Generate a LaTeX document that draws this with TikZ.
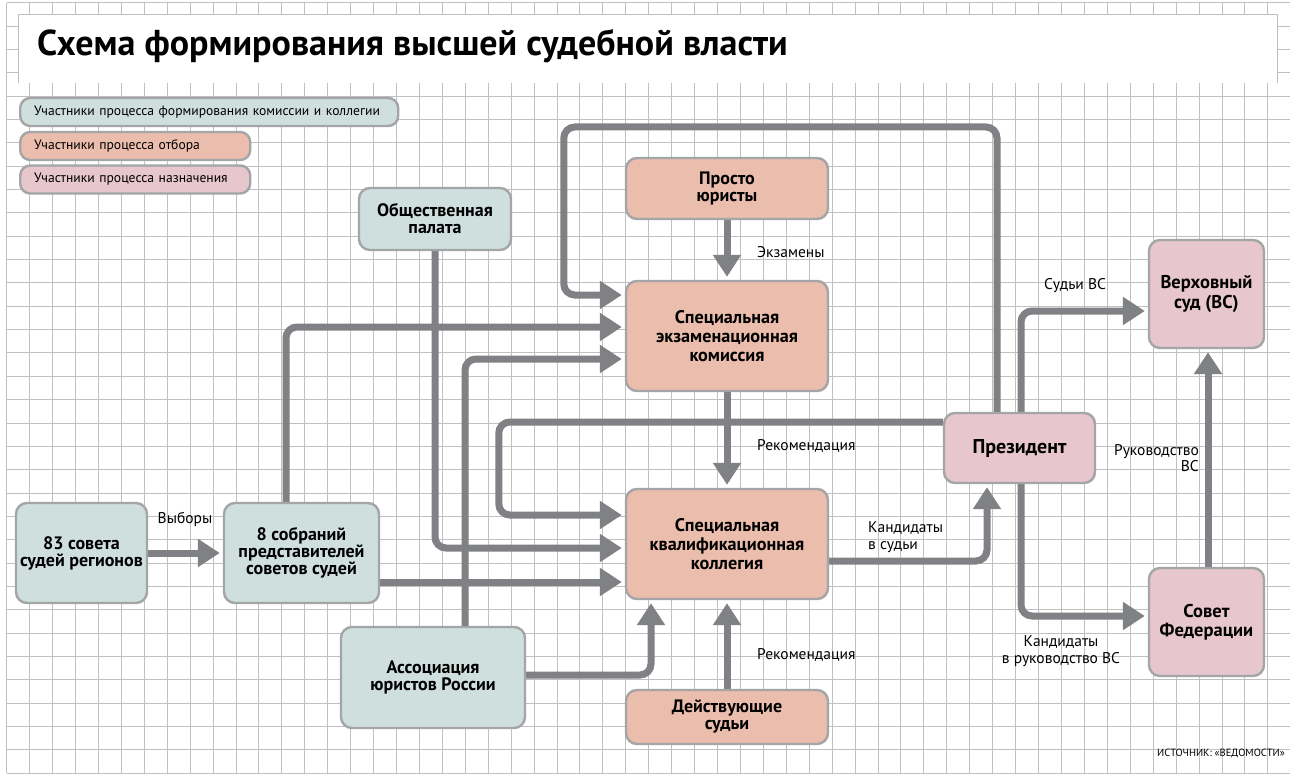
\documentclass[tikz,border=0pt]{standalone}
\usepackage{fontspec}
\setmainfont{PT Sans}
\usetikzlibrary{arrows.meta,calc}
\definecolor{cteal}{HTML}{CFDFDE}
\definecolor{csalm}{HTML}{EBBDAD}
\definecolor{cpink}{HTML}{E7C6CD}
\definecolor{cborder}{HTML}{A3A5A6}
\definecolor{carrow}{HTML}{808184}
\definecolor{cgrid}{HTML}{C0C0C0}
\pgfdeclarelayer{gridlayer}
\pgfdeclarelayer{arrlayer}
\pgfsetlayers{gridlayer,arrlayer,main}
\tikzset{
  boxbase/.style={draw=cborder, line width=2.4pt, rounded corners=11pt, align=center, inner sep=0pt},
  tealbox/.style={boxbase, fill=cteal},
  salmbox/.style={boxbase, fill=csalm},
  pinkbox/.style={boxbase, fill=cpink},
  nfont/.style={font=\bfseries\fontsize{18}{17}\selectfont},
  bfont/.style={font=\bfseries\fontsize{18.2}{19.3}\selectfont},
  pfont/.style={font=\bfseries\fontsize{18.5}{19.5}\selectfont},
  lbl/.style={font=\fontsize{15.5}{16.5}\selectfont, inner sep=0pt},
  legbox/.style={boxbase, rounded corners=10pt, align=left, inner xsep=14pt, inner ysep=0pt,
    font=\fontsize{13.6}{14}\selectfont, minimum height=28pt, anchor=west},
  arr/.style={draw=carrow, line width=7pt, rounded corners=11pt,
    -{Triangle[width=27pt,length=22pt]}, shorten >=3pt},
  gridline/.style={draw=cgrid, line width=1pt},
}
\begin{document}
\begin{tikzpicture}[x=1pt,y=-1pt]
\useasboundingbox (0,0) rectangle (1293,778);
% grid
\begin{pgfonlayer}{gridlayer}
\fill[white] (0,0) rectangle (1293,778);
\foreach \i in {0,...,55} \draw[gridline] ({6.7+22.93*\i},2.7) -- ({6.7+22.93*\i},773.3);
\foreach \j in {0,...,33} \draw[gridline] (6.7,{2.7+23.35*\j}) -- (1290,{2.7+23.35*\j});
\fill[white] (18.3,14.3) rectangle (1277,83);
\draw[gridline] (18.3,83) -- (18.3,14.3) -- (1277,14.3) -- (1277,83);
\end{pgfonlayer}
% title
\node[anchor=base west, inner sep=0pt, font=\bfseries\fontsize{36}{38}\selectfont] (title) at (37,56) {Схема формирования высшей судебной власти};
% legend
\node[legbox, fill=cteal, text width=350pt] (leg1) at (19,112) {Участники процесса формирования комиссии и коллегии};
\node[legbox, fill=csalm, text width=202pt] (leg2) at (19,146) {Участники процесса отбора};
\node[legbox, fill=cpink, text width=202pt] (leg3) at (19,179.5) {Участники процесса назначения};
% nodes
\node[salmbox, nfont, minimum width=202pt, minimum height=61pt] (prosto) at (727,188.5) {Просто\\юристы};
\node[salmbox, bfont, minimum width=202pt, minimum height=110pt] (exam) at (727,336) {Специальная\\экзаменационная\\комиссия};
\node[salmbox, bfont, minimum width=202pt, minimum height=110pt] (kval) at (727,544) {Специальная\\квалификационная\\коллегия};
\node[salmbox, nfont, minimum width=202pt, minimum height=54pt] (deyst) at (727,717) {Действующие\\судьи};
\node[tealbox, nfont, minimum width=152pt, minimum height=62pt] (obsch) at (435,219) {Общественная\\палата};
\node[tealbox, nfont, minimum width=131pt, minimum height=100pt] (sov83) at (81.5,553) {83 совета\\судей регионов};
\node[tealbox, nfont, minimum width=155pt, minimum height=100pt] (sobr8) at (301.5,553) {8 собраний\\представителей\\советов судей};
\node[tealbox, nfont, minimum width=184pt, minimum height=101pt] (assoc) at (433,677.5) {Ассоциация\\юристов России};
\node[pinkbox, font=\bfseries\fontsize{20}{21}\selectfont, minimum width=151pt, minimum height=70pt] (pres) at (1019.5,448) {Президент};
\node[pinkbox, pfont, minimum width=115pt, minimum height=108pt] (sf) at (1206.5,622) {Совет\\Федерации};
\node[pinkbox, pfont, minimum width=115pt, minimum height=108pt] (vs) at (1206.5,294) {Верховный\\суд (ВС)};
% connectors
\begin{pgfonlayer}{arrlayer}
\draw[arr] (sov83.east) -- (sobr8.west);
\draw[arr] (prosto.south) -- (exam.north);
\draw[arr] (exam.south) -- (kval.north);
\draw[arr] (deyst.north) -- (kval.south);
\draw[arr] ($(assoc.east)+(0,-2.5)$) -| ($(kval.south)+(-76,0)$);
\draw[arr] ($(assoc.north)+(32,0)$) |- ($(exam.west)+(0,23)$);
\draw[arr] (obsch.south) |- ($(kval.west)+(0,4)$);
\draw[arr] ($(sobr8.north)+(-15.5,0)$) |- ($(exam.west)+(0,-9)$);
\draw[arr] ($(sobr8.east)+(0,29)$) -- ($(kval.west)+(0,38)$);
\draw[arr] ($(pres.west)+(0,-26)$) -| ($(kval.west)+(-126,-29)$) -- ($(kval.west)+(0,-29)$);
\draw[arr] ($(pres.north)+(-22.5,0)$) |- ($(exam.west)+(-61,-209)$) |- ($(exam.west)+(0,-41)$);
\draw[arr] ($(kval.east)+(0,17)$) -| ($(pres.south)+(-32.5,0)$);
\draw[arr] ($(pres.south)+(1.5,0)$) |- ($(sf.west)+(0,-6)$);
\draw[arr] ($(pres.north)+(1.5,0)$) |- ($(vs.west)+(0,17)$);
\draw[arr] ($(sf.north)+(1.5,0)$) -- ($(vs.south)+(1.5,0)$);
\end{pgfonlayer}
% labels
\node[lbl] (lvyb) at (185,519) {Выборы};
\node[lbl, anchor=west] (lexam) at (757,252) {Экзамены};
\node[lbl, anchor=west] (lrec1) at (757,446) {Рекомендация};
\node[lbl, anchor=west] (lrec2) at (757,655) {Рекомендация};
\node[lbl, anchor=west, align=left] (lkand) at (868,537) {Кандидаты\\в судьи};
\node[lbl] (lsud) at (1075,286) {Судьи ВС};
\node[lbl, anchor=east, align=right] (lruk) at (1199,458) {Руководство\\ВС};
\node[lbl, align=center] (lkand2) at (1061,651) {Кандидаты\\в руководство ВС};
\node[anchor=east, inner sep=0pt, font=\fontsize{10.5}{12}\selectfont] (src) at (1285,753) {ИСТОЧНИК: «ВЕДОМОСТИ»};
\end{tikzpicture}
\end{document}
